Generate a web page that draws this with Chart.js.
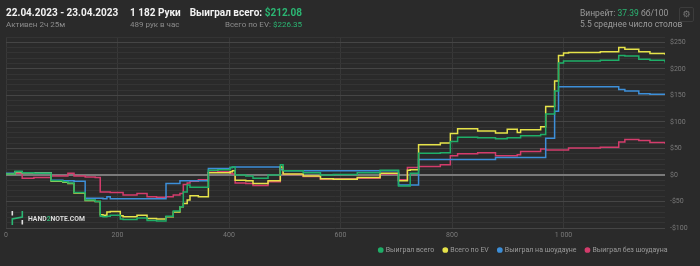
<!DOCTYPE html>
<html>
<head>
<meta charset="utf-8">
<script src="https://cdn.jsdelivr.net/npm/chart.js@4"></script>
<style>
  body { margin: 0; background: #2a2a2a; font-family: Roboto, sans-serif; }
  #wrap { position: relative; width: 700px; height: 266px; }
  .t { position: absolute; white-space: nowrap; }
  .big { font-size: 10px; font-weight: 700; color: #f2f2f2; line-height: 12px; }
  .small { font-size: 8px; color: #8c8c8c; line-height: 10px; }
  .mid { font-size: 8.5px; color: #9a9a9a; line-height: 10px; }
  .green { color: #2bb673; }
  #gear { position: absolute; left: 679px; top: 7px; width: 13px; height: 13px; border: 1px solid #3c3c3c; border-radius: 2px; color: #777; font-size: 9px; line-height: 13px; text-align: center; font-family: "DejaVu Sans", sans-serif; }
</style>
</head>
<body>
<div id="wrap">
  <canvas id="chart" width="700" height="266"></canvas>
  <div class="t big" style="left:6px;top:7px">22.04.2023 - 23.04.2023</div>
  <div class="t small" style="left:6px;top:20px">Активен 2ч 25м</div>
  <div class="t big" style="left:130px;top:7px">1 182 Руки</div>
  <div class="t small" style="left:130px;top:20px">489 рук в час</div>
  <div class="t big" style="right:398px;top:7px">Выиграл всего: <span class="green">$212.08</span></div>
  <div class="t small" style="right:398px;top:20px">Всего по EV: <span class="green">$226.35</span></div>
  <div class="t mid" style="left:580px;top:8px">Винрейт: <span class="green">37.39</span> бб/100</div>
  <div class="t mid" style="left:580px;top:19px">5.5 среднее число столов</div>
  <div id="gear">⚙</div>
</div>
<script>
const hands = [0, 16, 29, 50, 81, 102, 111, 122, 142, 160, 169, 174, 181, 187, 205, 210, 235, 253, 270, 287,
  300, 312, 318, 325, 330, 345, 363, 380, 402, 406, 411, 430, 443, 470, 492, 497, 533, 564, 587, 630,
  671, 704, 720, 725, 740, 779, 797, 810, 846, 878, 899, 917, 923, 959, 968, 984, 991, 1000, 1009, 1066,
  1099, 1110, 1135, 1155, 1182];

const wonTotal = [2, 7, 4, 3, -11, -13, -15, -33, -47, -50, -78, -79, -78, -76, -83, -84, -81, -86, -87, -78,
  -68, -60, -32, -19, -23, -23, 9, 10, 14, 15, 0, -2, -6, 0, 19, 8, 4, 0, 1, 4,
  9, -21, -21, 3, 41, 42, 63, 71, 70, 68, 70, 70, 74, 76, 115, 158, 211, 215, 215, 216,
  225, 224, 218, 216, 212.08];

const evTotal = [2, 6, 4, 3, -12, -14, -16, -34, -48, -50, -75, -76, -70, -69, -77, -79, -76, -82, -83, -79,
  -70, -60, -54, -47, -39, -41, 4, 4, 6, 8, -10, -11, -16, -11, 15, 2, -2, -7, -8, -5,
  3, -11, 9, 10, 57, 60, 78, 87, 83, 79, 86, 80, 85, 91, 129, 177, 225, 230, 231, 232,
  240, 237, 232, 229, 226.35];

const showdown = [3, 6, 4, 4, -10, -11, -11, -12, -44, -44, -44, -45, -41, -45, -45, -45, -45, -45, -45, -16,
  -16, -11, -11, -11, -11, -11, 12, 12, 14, 15, 15, 15, 15, 15, 10, 8, 8, 8, 8, 8,
  8, -19, -19, -19, 29, 29, 29, 29, 29, 33, 33, 33, 33, 33, 69, 120, 166, 166, 166, 166,
  161, 158, 153, 152, 152];

const nonShowdown = [2, 3, -6, -5, -2, -2, 3, -2, -4, -5, -32, -32, -32, -33, -33, -38, -35, -41, -42, -41,
  -38, -35, -18, -15, -12, -9, 5, 6, 3, 2, -15, -16, -20, -13, 13, 1, -3, -8, -7, -6,
  2, -9, 14, 14, 16, 19, 36, 40, 42, 36, 36, 38, 44, 49, 47, 47, 47, 47, 51, 52,
  62, 67, 65, 61, 59];

const seriesNames = ['Выиграл всего', 'Всего по EV', 'Выиграл на шоудауне', 'Выиграл без шоудауна'];
const seriesColors = ['#1fae68', '#e6e34a', '#3d8fd9', '#d43c6c'];
const seriesValues = [wonTotal, evTotal, showdown, nonShowdown];

const xTicks = [0, 200, 400, 600, 800, 1000];

function fmtHands(v) {
  return String(v).replace(/\B(?=(\d{3})+(?!\d))/g, ' ');
}

const watermark = {
  id: 'watermark',
  beforeDatasetsDraw(chart) {
    const ctx = chart.ctx;
    ctx.save();
    ctx.fillStyle = '#e0e0e0';
    ctx.fillRect(11.5, 211, 1.6, 4.5);
    ctx.fillRect(21.5, 220, 1.6, 4.5);
    ctx.strokeStyle = '#2bb673';
    ctx.lineWidth = 1.6;
    ctx.beginPath();
    ctx.moveTo(12.3, 225);
    ctx.lineTo(12.3, 219);
    ctx.lineTo(22.3, 217);
    ctx.lineTo(22.3, 211);
    ctx.stroke();
    ctx.font = 'bold 6.8px Roboto';
    ctx.textBaseline = 'middle';
    let x = 28;
    for (const part of [['HAND', '#dcdcdc'], ['2', '#2bb673'], ['NOTE.COM', '#dcdcdc']]) {
      ctx.fillStyle = part[1];
      ctx.fillText(part[0], x, 219);
      x += ctx.measureText(part[0]).width;
    }
    ctx.restore();
  }
};

// legend ends under the plot's right edge, not at the canvas edge
const legendShift = {
  id: 'legendShift',
  afterLayout(chart) {
    chart.legend.left -= 23;
    chart.legend.right -= 23;
  }
};

new Chart(document.getElementById('chart'), {
  type: 'line',
  data: {
    datasets: seriesValues.map((vals, i) => ({
      label: seriesNames[i],
      data: vals.map((v, j) => ({ x: hands[j], y: v })),
      borderColor: seriesColors[i],
      backgroundColor: seriesColors[i],
      borderWidth: 1.5,
      stepped: true,
      pointRadius: 0,
      fill: false
    }))
  },
  options: {
    responsive: false,
    animation: false,
    layout: { padding: { top: 37, left: 6, right: 0, bottom: 9 } },
    plugins: {
      tooltip: { enabled: false },
      legend: {
        position: 'bottom',
        align: 'end',
        maxHeight: 20,
        labels: {
          color: '#9a9a9a',
          font: { family: 'Roboto', size: 7 },
          usePointStyle: true,
          pointStyle: 'circle',
          boxWidth: 3,
          boxHeight: 3,
          padding: 9.5
        }
      }
    },
    scales: {
      x: {
        type: 'linear',
        min: 0,
        max: 1182,
        afterFit(scale) { scale.height = 9; },
        afterBuildTicks(scale) { scale.ticks = xTicks.map(v => ({ value: v })); },
        border: { display: false },
        grid: { color: '#383838', lineWidth: 1, drawTicks: false },
        ticks: {
          autoSkip: false,
          includeBounds: false,
          maxRotation: 0,
          padding: 3,
          color: '#7a7a7a',
          font: { family: 'Roboto', size: 7 },
          callback: v => fmtHands(v)
        }
      },
      y: {
        position: 'right',
        min: -100,
        max: 260,
        afterFit(scale) { scale.width = 35; },
        border: { display: false },
        grid: {
          drawTicks: false,
          color: c => c.tick.value === 0 ? '#7a7a7a' : (c.tick.value % 50 === 0 ? '#454545' : '#343434'),
          lineWidth: c => c.tick.value === 0 ? 2 : 1
        },
        ticks: {
          stepSize: 10,
          autoSkip: false,
          padding: 5,
          color: '#7a7a7a',
          font: { family: 'Roboto', size: 7 },
          callback: v => v % 50 !== 0 ? '' : (v < 0 ? '-$' + (-v) : '$' + v)
        }
      }
    }
  },
  plugins: [watermark, legendShift]
});
</script>
</body>
</html>
